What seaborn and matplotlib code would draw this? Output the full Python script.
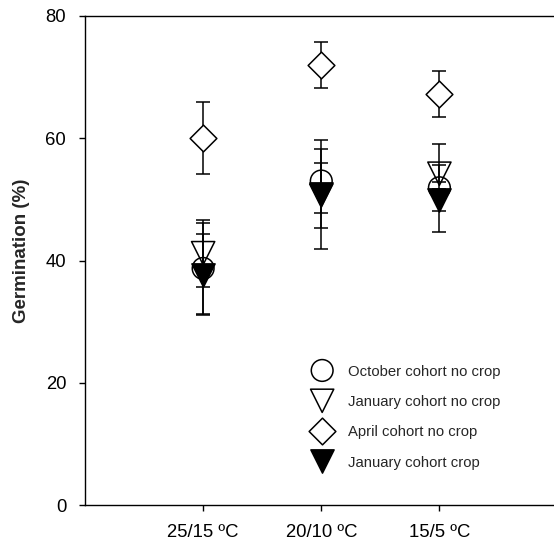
import matplotlib
matplotlib.use("Agg")
import matplotlib.pyplot as plt
import seaborn as sns
import pandas as pd

sns.set_style("ticks")
plt.rcParams['font.family'] = ['Liberation Sans', 'DejaVu Sans']

temps = ["25/15 ºC", "20/10 ºC", "15/5 ºC"]
series = ["October cohort no crop", "January cohort no crop",
          "April cohort no crop", "January cohort crop"]
oct_mean = [38.7, 53.0, 51.9]
oct_err = [7.4, 5.25, 7.2]
jan_mean = [41.2, 50.6, 54.2]
jan_err = [5.5, 5.3, 1.4]
apr_mean = [60.0, 72.0, 67.2]
apr_err = [5.9, 3.7, 3.75]
janc_mean = [37.7, 50.8, 49.9]
janc_err = [6.65, 8.9, 1.8]

means = [oct_mean, jan_mean, apr_mean, janc_mean]
errs = [oct_err, jan_err, apr_err, janc_err]
styles = [
    dict(marker="o", s=245, facecolor="none", edgecolor="black", mz=3, ez=4),
    dict(marker="v", s=280, facecolor="none", edgecolor="black", mz=3, ez=4),
    dict(marker="D", s=185, facecolor="white", edgecolor="black", mz=7, ez=6),
    dict(marker="v", s=280, facecolor="black", edgecolor="black", mz=5, ez=4),
]

fig = plt.figure(figsize=(5.54, 5.43), dpi=100)
ax = fig.add_axes([85/554, (543-505)/543, (554-85)/554, (505-16)/543])

for name, m, e, st in zip(series, means, errs, styles):
    df = pd.DataFrame({"temp": temps, "mean": m})
    ax.errorbar(temps, m, yerr=e, fmt="none", ecolor="black", elinewidth=1.1,
                capsize=5, capthick=1.1, zorder=st["ez"])
    sns.scatterplot(data=df, x="temp", y="mean", marker=st["marker"], s=st["s"],
                    facecolor=st["facecolor"], edgecolor=st["edgecolor"],
                    linewidth=1.1, label=name, ax=ax, zorder=st["mz"])

ax.set_xlim(-1, 2.97)
ax.set_ylim(0, 80)
ax.set_yticks([0, 20, 40, 60, 80])
ax.spines["right"].set_visible(False)
ax.set_xlabel("")
ax.set_ylabel("Germination (%)", fontsize=13.5, fontweight="bold")
ax.yaxis.set_label_coords(-0.117, 0.52)
ax.tick_params(axis="both", direction="out", length=4.5, width=1, pad=9,
               labelsize=13.3, colors="black")
for sp in ax.spines.values():
    sp.set_linewidth(1)
    sp.set_color("black")

ax.legend(loc="upper left", bbox_to_anchor=(0.474, 0.287), frameon=False,
          fontsize=10.7, handlelength=2, handletextpad=0.75, labelspacing=1.1,
          borderpad=0, borderaxespad=0, scatteryoffsets=[0.5])

fig.savefig("out.png", dpi=100)
